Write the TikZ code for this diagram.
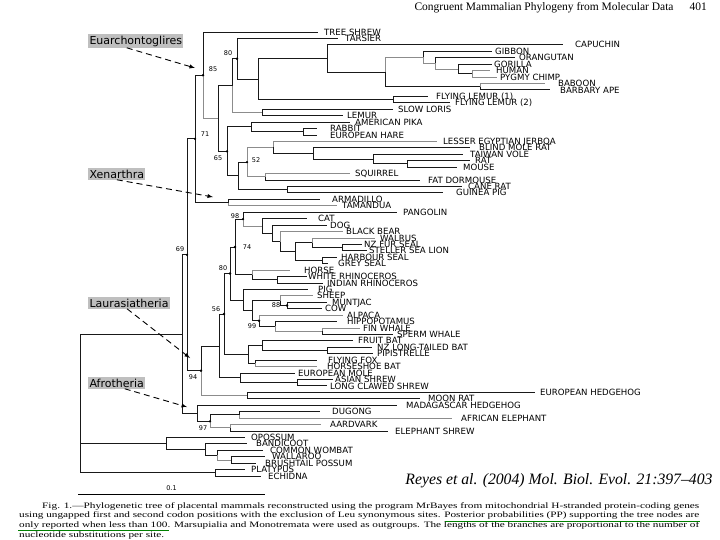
\documentclass[tikz,border=0pt]{standalone}
\usepackage{fontspec}
\usepackage{graphicx}
\setmainfont{Liberation Serif}
\newfontfamily\treefont{DejaVu Sans}
\usetikzlibrary{arrows}
\tikzstyle{branch} = [line width=0.9pt, black!90]
\tikzstyle{faint} = [line width=0.7pt, black!45]
\tikzstyle{taxon} = [anchor=west, inner xsep=4pt, inner ysep=0pt, text height=6.2pt, text depth=0pt, font=\treefont\fontsize{8.6}{9}\selectfont]
\tikzstyle{support} = [inner sep=0pt, font=\treefont\fontsize{6.5}{7}\selectfont]
\tikzstyle{ppdot} = [circle, fill=black, inner sep=0pt, minimum size=2.6pt]
\tikzstyle{clade} = [anchor=west, fill=black!25, inner sep=1.3pt, font=\treefont\fontsize{11}{12}\selectfont]
\tikzstyle{cladearrow} = [line width=0.9pt, dash pattern=on 6pt off 4pt, ->, >=latex]
\tikzstyle{capline} = [anchor=base west, inner sep=0pt, font=\fontsize{8.3}{9}\selectfont]
\tikzstyle{markline} = [line width=0.8pt, green!50!black]

\begin{document}
\begin{tikzpicture}[x=1pt, y=-1pt]
\useasboundingbox (0,0) rectangle (720,540);

\node (header) [anchor=east, inner sep=0pt, font=\fontsize{11.5}{13}\selectfont] at (707,8) {Congruent Mammalian Phylogeny from Molecular Data\hspace{16pt}401};

\begin{scope}[y=-6.435pt, yshift=-32pt]
% internal nodes (x in pt, y in rows)
\coordinate (root) at (80,57);
\coordinate (nEut) at (182,46.94);
\coordinate (n69) at (187,34.63);
\coordinate (n71) at (195,16.61);
\coordinate (n85) at (203,6.72);
\coordinate (nPG) at (218,13.44);
\coordinate (nPri) at (232,8.326);
\coordinate (n80a) at (237,4.152);
\coordinate (nAnth) at (258,7.305);
\coordinate (nSim) at (327,4.109);
\coordinate (nCat) at (385,6.219);
\coordinate (nApe) at (423,3.938);
\coordinate (nGA) at (435,4.875);
\coordinate (nHom) at (458,5.75);
\coordinate (nPan) at (472,6.5);
\coordinate (nCer) at (480,8.5);
\coordinate (nFL) at (393,10.5);
\coordinate (nStr) at (262,12.5);
\coordinate (nGli) at (227,18.555);
\coordinate (nLag) at (251,14.75);
\coordinate (nLep) at (303,15.5);
\coordinate (nRod) at (238,22.359);
\coordinate (n52) at (247,20.219);
\coordinate (nMyo) at (273,17.938);
\coordinate (nMur) at (313,18.875);
\coordinate (nMu2) at (373,19.75);
\coordinate (nMus) at (407,20.5);
\coordinate (nSci) at (265,22.5);
\coordinate (nHys) at (287,24.5);
\coordinate (nXen) at (228,26.5);
\coordinate (n94) at (201,52.645);
\coordinate (nLa) at (219,48.79);
\coordinate (n56) at (224,43.83);
\coordinate (n80b) at (230,37.53);
\coordinate (n74) at (235,33.41);
\coordinate (n98) at (243,29.07);
\coordinate (nCarn) at (262,30.14);
\coordinate (nCan) at (272,31.28);
\coordinate (nArc) at (280,32.5625);
\coordinate (nPin) at (295,34.125);
\coordinate (nOta) at (312,32.75);
\coordinate (nOt2) at (342,33.5);
\coordinate (nPho) at (322,35.5);
\coordinate (nPer) at (252,37.75);
\coordinate (nRhi) at (277,38.5);
\coordinate (nCet) at (243,41.656);
\coordinate (nCe2) at (252,43.3125);
\coordinate (nRum) at (280,41.75);
\coordinate (n88) at (287,42.5);
\coordinate (n99) at (259,44.875);
\coordinate (nWhi) at (275,45.75);
\coordinate (nWha) at (322,46.5);
\coordinate (nChi) at (248,50.125);
\coordinate (nMeg) at (262,48.75);
\coordinate (nVes) at (327,49.5);
\coordinate (nRhb) at (255,51.5);
\coordinate (nEul) at (240,53.75);
\coordinate (nSor) at (297,54.5);
\coordinate (nEri) at (247,56.5);
\coordinate (nAfr) at (197,59.25);
\coordinate (n97) at (210,60.5);
\coordinate (nPae) at (239,59.5);
\coordinate (nAfi) at (230,61.5);
\coordinate (nMar) at (166,63.9375);
\coordinate (nAus) at (205,64.875);
\coordinate (nDip) at (217,65.75);
\coordinate (nPha) at (231,66.5);
\coordinate (nMon) at (215,68.5);

% taxa
\node (treeshrew) [taxon, inner xsep=6pt] at (318,0) {TREE SHREW};
\node (tarsier) [taxon, inner xsep=7pt] at (338,1) {TARSIER};
\node (capuchin) [taxon, inner xsep=12pt] at (563,2) {CAPUCHIN};
\node (gibbon) [taxon, inner xsep=3pt] at (492,3) {GIBBON};
\node (orangutan) [taxon] at (515,4) {ORANGUTAN};
\node (gorilla) [taxon, inner xsep=2pt] at (492,5) {GORILLA};
\node (human) [taxon, inner xsep=6pt] at (490,6) {HUMAN};
\node (pygmychimp) [taxon, inner xsep=3pt] at (497,7) {PYGMY CHIMP};
\node (baboon) [taxon, inner xsep=13pt] at (545,8) {BABOON};
\node (barbaryape) [taxon, inner xsep=10pt] at (550,9) {BARBARY APE};
\node (flyinglemur1) [taxon, inner xsep=8pt] at (428,10) {FLYING LEMUR (1)};
\node (flyinglemur2) [taxon, inner xsep=5pt] at (450,11) {FLYING LEMUR (2)};
\node (slowloris) [taxon, inner xsep=5pt] at (393,12) {SLOW LORIS};
\node (lemur) [taxon] at (343,13) {LEMUR};
\node (pika) [taxon, inner xsep=5pt] at (350,14) {AMERICAN PIKA};
\node (rabbit) [taxon, inner xsep=13pt] at (317,15) {RABBIT};
\node (hare) [taxon, inner xsep=13pt] at (317,16) {EUROPEAN HARE};
\node (jerboa) [taxon, inner xsep=6pt] at (437,17) {LESSER EGYPTIAN JERBOA};
\node (molerat) [taxon, inner xsep=9pt] at (470,18) {BLIND MOLE RAT};
\node (vole) [taxon, inner xsep=7pt] at (463,19) {TAIWAN VOLE};
\node (rat) [taxon, inner xsep=5pt] at (470,20) {RAT};
\node (mouse) [taxon, inner xsep=6pt] at (457,21) {MOUSE};
\node (squirrel) [taxon, inner xsep=5pt] at (350,22) {SQUIRREL};
\node (dormouse) [taxon, inner xsep=8pt] at (420,23) {FAT DORMOUSE};
\node (canerat) [taxon, inner xsep=6pt] at (462,24) {CANE RAT};
\node (guineapig) [taxon, inner xsep=13pt] at (443,25) {GUINEA PIG};
\node (armadillo) [taxon, inner xsep=12pt] at (320,26) {ARMADILLO};
\node (tamandua) [taxon, inner xsep=5pt] at (337,27) {TAMANDUA};
\node (pangolin) [taxon, inner xsep=6pt] at (397,28) {PANGOLIN};
\node (cat) [taxon, inner xsep=11pt] at (307,29) {CAT};
\node (dog) [taxon, inner xsep=3pt] at (327,30) {DOG};
\node (blackbear) [taxon, inner xsep=3pt] at (343,31) {BLACK BEAR};
\node (walrus) [taxon, inner xsep=5pt] at (375,32) {WALRUS};
\node (nzfurseal) [taxon, inner xsep=2pt] at (362,33) {NZ FUR SEAL};
\node (steller) [taxon, inner xsep=2pt] at (367,34) {STELLER SEA LION};
\node (harbourseal) [taxon] at (337,35) {HARBOUR SEAL};
\node (greyseal) [taxon, inner xsep=10pt] at (328,36) {GREY SEAL};
\node (horse) [taxon, inner xsep=14pt] at (290,37) {HORSE};
\node (whiterhino) [taxon, inner xsep=1pt] at (307,38) {WHITE RHINOCEROS};
\node (indianrhino) [taxon] at (323,39) {INDIAN RHINOCEROS};
\node (pig) [taxon, inner xsep=10pt] at (308,40) {PIG};
\node (sheep) [taxon] at (313,41) {SHEEP};
\node (muntjac) [taxon, inner xsep=5pt] at (327,42) {MUNTJAC};
\node (cow) [taxon, inner xsep=3pt] at (322,43) {COW};
\node (alpaca) [taxon] at (343,44) {ALPACA};
\node (hippo) [taxon, inner xsep=10pt] at (337,45) {HIPPOPOTAMUS};
\node (finwhale) [taxon, inner xsep=3pt] at (360,46) {FIN WHALE};
\node (spermwhale) [taxon] at (393,47) {SPERM WHALE};
\node (fruitbat) [taxon, inner xsep=5pt] at (353,48) {FRUIT BAT};
\node (nzbat) [taxon, inner xsep=5pt] at (372,49) {NZ LONG-TAILED BAT};
\node (pipistrelle) [taxon] at (373,50) {PIPISTRELLE};
\node (flyingfox) [taxon, inner xsep=11pt] at (317,51) {FLYING FOX};
\node (horseshoe) [taxon, inner xsep=10pt] at (317,52) {HORSESHOE BAT};
\node (mole) [taxon, inner xsep=3pt] at (295,53) {EUROPEAN MOLE};
\node (asianshrew) [taxon, inner xsep=2pt] at (333,54) {ASIAN SHREW};
\node (longclawed) [taxon, inner xsep=3pt] at (327,55) {LONG CLAWED SHREW};
\node (hedgehog) [taxon, inner xsep=5pt] at (535,56) {EUROPEAN HEDGEHOG};
\node (moonrat) [taxon, inner xsep=8pt] at (420,57) {MOON RAT};
\node (madagascar) [taxon, inner xsep=9pt] at (397,58) {MADAGASCAR HEDGEHOG};
\node (dugong) [taxon, inner xsep=12pt] at (320,59) {DUGONG};
\node (elephant) [taxon, inner xsep=9pt] at (452,60) {AFRICAN ELEPHANT};
\node (aardvark) [taxon, inner xsep=9pt] at (321,61) {AARDVARK};
\node (eleshrew) [taxon, inner xsep=7pt] at (388,62) {ELEPHANT SHREW};
\node (opossum) [taxon, inner xsep=6pt] at (245,63) {OPOSSUM};
\node (bandicoot) [taxon, inner xsep=9pt] at (247,64) {BANDICOOT};
\node (wombat) [taxon, inner xsep=7pt] at (263,65) {COMMON WOMBAT};
\node (wallaroo) [taxon, inner xsep=7pt] at (265,66) {WALLAROO};
\node (brushtail) [taxon, inner xsep=9pt] at (256,67) {BRUSHTAIL POSSUM};
\node (platypus) [taxon, inner xsep=6pt] at (245,68) {PLATYPUS};
\node (echidna) [taxon, inner xsep=7pt] at (261,69) {ECHIDNA};
\end{scope}

% branches
\draw [branch] (root) |- (nEut);
\draw [branch] (root) |- (nMar);
\draw [branch] (root) |- (nMon);
\draw [branch] (nEut) |- (n69);
\draw [branch] (nEut) |- (nAfr);
\draw [branch] (n69) |- (n71);
\draw [branch] (n69) |- (n94);
\draw [branch] (n71) |- (n85);
\draw [branch] (n71) |- (nXen);
\draw [branch] (n85) |- (treeshrew);
\draw [faint] (n85) |- (nPG);
\draw [branch] (nPG) |- (nPri);
\draw [branch] (nPG) |- (nGli);
\draw [branch] (nPri) |- (n80a);
\draw [faint] (nPri) |- (nStr);
\draw [branch] (n80a) |- (tarsier);
\draw [branch] (n80a) |- (nAnth);
\draw [branch] (nAnth) |- (nSim);
\draw [branch] (nAnth) |- (nFL);
\draw [branch] (nSim) |- (capuchin);
\draw [branch] (nSim) |- (nCat);
\draw [faint] (nCat) |- (nApe);
\draw [branch] (nCat) |- (nCer);
\draw [branch] (nApe) |- (gibbon);
\draw [faint] (nApe) |- (nGA);
\draw [branch] (nGA) |- (orangutan);
\draw [faint] (nGA) |- (nHom);
\draw [branch] (nHom) |- (gorilla);
\draw [branch] (nHom) |- (nPan);
\draw [faint] (nPan) |- (human);
\draw [faint] (nPan) |- (pygmychimp);
\draw [faint] (nCer) |- (baboon);
\draw [branch] (nCer) |- (barbaryape);
\draw [branch] (nFL) |- (flyinglemur1);
\draw [branch] (nFL) |- (flyinglemur2);
\draw [branch] (nStr) |- (slowloris);
\draw [branch] (nStr) |- (lemur);
\draw [branch] (nGli) |- (nLag);
\draw [branch] (nGli) |- (nRod);
\draw [branch] (nLag) |- (pika);
\draw [branch] (nLag) |- (nLep);
\draw [branch] (nLep) |- (rabbit);
\draw [branch] (nLep) |- (hare);
\draw [branch] (nRod) |- (n52);
\draw [branch] (nRod) |- (nHys);
\draw [faint] (n52) |- (nMyo);
\draw [faint] (n52) |- (nSci);
\draw [faint] (nMyo) |- (jerboa);
\draw [branch] (nMyo) |- (nMur);
\draw [branch] (nMur) |- (molerat);
\draw [branch] (nMur) |- (nMu2);
\draw [branch] (nMu2) |- (vole);
\draw [branch] (nMu2) |- (nMus);
\draw [branch] (nMus) |- (rat);
\draw [branch] (nMus) |- (mouse);
\draw [faint] (nSci) |- (squirrel);
\draw [branch] (nSci) |- (dormouse);
\draw [branch] (nHys) |- (canerat);
\draw [branch] (nHys) |- (guineapig);
\draw [branch] (nXen) |- (armadillo);
\draw [faint] (nXen) |- (tamandua);
\draw [branch] (n94) |- (nLa);
\draw [faint] (n94) |- (nEri);
\draw [branch] (nLa) |- (n56);
\draw [branch] (nLa) |- (nEul);
\draw [branch] (n56) |- (n80b);
\draw [branch] (n56) |- (nChi);
\draw [branch] (n80b) |- (n74);
\draw [branch] (n80b) |- (nCet);
\draw [branch] (n74) |- (n98);
\draw [branch] (n74) |- (nPer);
\draw [branch] (n98) |- (pangolin);
\draw [faint] (n98) |- (nCarn);
\draw [branch] (nCarn) |- (cat);
\draw [branch] (nCarn) |- (nCan);
\draw [branch] (nCan) |- (dog);
\draw [branch] (nCan) |- (nArc);
\draw [faint] (nArc) |- (blackbear);
\draw [branch] (nArc) |- (nPin);
\draw [branch] (nPin) |- (nOta);
\draw [branch] (nPin) |- (nPho);
\draw [faint] (nOta) |- (walrus);
\draw [branch] (nOta) |- (nOt2);
\draw [branch] (nOt2) |- (nzfurseal);
\draw [branch] (nOt2) |- (steller);
\draw [branch] (nPho) |- (harbourseal);
\draw [branch] (nPho) |- (greyseal);
\draw [faint] (nPer) |- (horse);
\draw [branch] (nPer) |- (nRhi);
\draw [branch] (nRhi) |- (whiterhino);
\draw [branch] (nRhi) |- (indianrhino);
\draw [branch] (nCet) |- (pig);
\draw [branch] (nCet) |- (nCe2);
\draw [branch] (nCe2) |- (nRum);
\draw [branch] (nCe2) |- (n99);
\draw [faint] (nRum) |- (sheep);
\draw [branch] (nRum) |- (n88);
\draw [branch] (n88) |- (muntjac);
\draw [branch] (n88) |- (cow);
\draw [faint] (n99) |- (alpaca);
\draw [branch] (n99) |- (nWhi);
\draw [branch] (nWhi) |- (hippo);
\draw [faint] (nWhi) |- (nWha);
\draw [faint] (nWha) |- (finwhale);
\draw [branch] (nWha) |- (spermwhale);
\draw [branch] (nChi) |- (nMeg);
\draw [branch] (nChi) |- (nRhb);
\draw [branch] (nMeg) |- (fruitbat);
\draw [branch] (nMeg) |- (nVes);
\draw [branch] (nVes) |- (nzbat);
\draw [branch] (nVes) |- (pipistrelle);
\draw [branch] (nRhb) |- (flyingfox);
\draw [faint] (nRhb) |- (horseshoe);
\draw [branch] (nEul) |- (mole);
\draw [branch] (nEul) |- (nSor);
\draw [branch] (nSor) |- (asianshrew);
\draw [branch] (nSor) |- (longclawed);
\draw [branch] (nEri) |- (hedgehog);
\draw [branch] (nEri) |- (moonrat);
\draw [branch] (nAfr) |- (madagascar);
\draw [branch] (nAfr) |- (n97);
\draw [branch] (n97) |- (nPae);
\draw [faint] (n97) |- (nAfi);
\draw [branch] (nPae) |- (dugong);
\draw [faint] (nPae) |- (elephant);
\draw [faint] (nAfi) |- (aardvark);
\draw [branch] (nAfi) |- (eleshrew);
\draw [branch] (nMar) |- (opossum);
\draw [branch] (nMar) |- (nAus);
\draw [branch] (nAus) |- (bandicoot);
\draw [branch] (nAus) |- (nDip);
\draw [branch] (nDip) |- (wombat);
\draw [faint] (nDip) |- (nPha);
\draw [branch] (nPha) |- (wallaroo);
\draw [branch] (nPha) |- (brushtail);
\draw [branch] (nMon) |- (platypus);
\draw [branch] (nMon) |- (echidna);

% posterior probabilities
\node (pp80a) [ppdot] at (n80a) {};
\node (pp85) [ppdot] at (n85) {};
\node (pp71) [ppdot] at (n71) {};
\node (pp65) [ppdot] at (nGli) {};
\node (pp52) [ppdot] at (n52) {};
\node (pp98) [ppdot] at (n98) {};
\node (pp74) [ppdot] at (n74) {};
\node (pp80b) [ppdot] at (n80b) {};
\node (pp69) [ppdot] at (n69) {};
\node (pp88) [ppdot] at (n88) {};
\node (pp56) [ppdot] at (n56) {};
\node (pp99) [ppdot] at (n99) {};
\node (pp94) [ppdot] at (n94) {};
\node (pp97) [ppdot] at (n97) {};
\node (s80a) [support] at (228,53) {80};
\node (s85) [support] at (213,69) {85};
\node (s71) [support] at (205,134) {71};
\node (s65) [support] at (218,158) {65};
\node (s52) [support] at (256,160) {52};
\node (s98) [support] at (235,216) {98};
\node (s74) [support] at (247,247) {74};
\node (s80b) [support] at (223,268) {80};
\node (s69) [support] at (180,249) {69};
\node (s88) [support] at (276,305) {88};
\node (s56) [support] at (216,309) {56};
\node (s99) [support] at (252,326) {99};
\node (s94) [support] at (193,377) {94};
\node (s97) [support] at (203,428) {97};

% clades
\node (euarch) [clade] at (88,41) {Euarchontoglires};
\node (xenar) [clade] at (88,174) {Xenarthra};
\node (laura) [clade] at (88,303) {Laurasiatheria};
\node (afrot) [clade] at (88,383) {Afrotheria};
\coordinate (euarchtip) at (195,68);
\coordinate (xenartip) at (213,197);
\coordinate (lauratip) at (190,358);
\coordinate (afrottip) at (187,407);
\draw [cladearrow] ([xshift=-9pt]euarch.south) -- (euarchtip);
\draw [cladearrow] (xenar.south) -- (xenartip);
\draw [cladearrow] ([xshift=-2pt]laura.south) -- (lauratip);
\draw [cladearrow] ([xshift=8pt]afrot.south) -- (afrottip);

% scale bar
\coordinate (barleft) at (78,494);
\coordinate (barright) at (265,494);
\draw [line width=0.8pt] (barleft) -- node [support, above=3pt] (barlabel) {0.1} (barright);

\node (citation) at (559,481) {\resizebox{307pt}{11pt}{\itshape Reyes et al. (2004) Mol. Biol. Evol. 21:397--403}};

% caption
\node (cap1) [capline] at (42,508) {\resizebox{657pt}{\height}{\textsc{Fig.} 1.---Phylogenetic tree of placental mammals reconstructed using the program MrBayes from mitochondrial H-stranded protein-coding genes}};
\node (cap2) [capline] at (19,517.7) {\resizebox{680pt}{\height}{using ungapped first and second codon positions with the exclusion of Leu synonymous sites. Posterior probabilities (PP) supporting the tree nodes are}};
\node (cap3) [capline] at (19,527.4) {\resizebox{680pt}{\height}{only reported when less than 100. Marsupialia and Monotremata were used as outgroups. The lengths of the branches are proportional to the number of}};
\node (cap4) [capline] at (19,537.1) {\resizebox{145pt}{\height}{nucleotide substitutions per site.}};
\coordinate (markA) at (18,530);
\coordinate (markB) at (169,530);
\coordinate (markC) at (445,521.5);
\coordinate (markD) at (700,521.5);
\draw [markline] (markA) -- (markB);
\draw [markline] (markC) -- (markD);
\end{tikzpicture}
\end{document}
